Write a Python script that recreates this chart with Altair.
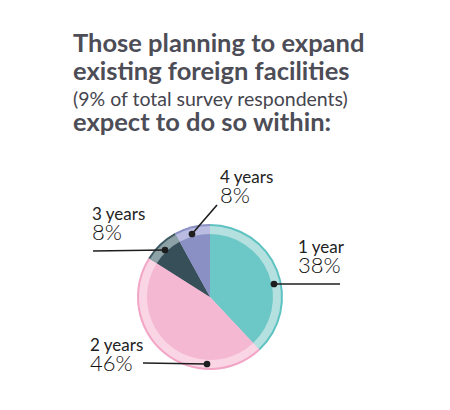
import altair as alt
import pandas as pd

# slices, clockwise from 12 o'clock
categories = ["1 year", "2 years", "3 years", "4 years"]
shares = [38, 46, 8, 8]
pct_labels = ["38%", "46%", "8%", "8%"]

title_lines = ["Those planning to expand", "existing foreign facilities",
               "(9% of total survey respondents)", "expect to do so within:"]

# colours: outer edge, light ring, inner fill
edge_colors = ["#5ec2c1", "#f2a5c5", "#405a63", "#8a8fc4"]
ring_colors = ["#b4e1e0", "#fad5e4", "#8da2a6", "#b9bbe1"]
fill_colors = ["#6cc8c6", "#f5b8d2", "#364f58", "#8a8fc4"]

# layout (page pixels)
cx, cy = 210, 297
title_y = [52, 80, 106, 131]
title_size = [25.5, 25.5, 19.5, 25.5]
label_x = [298, 90, 92, 220]
label_y = [253, 351, 220, 183]
dot_x = [274, 207, 165, 192]
dot_y = [284, 364, 250, 234]
line_x = [340, 143, 93, 217]
line_y = [284, 363, 251, 205]

xs = alt.Scale(domain=[8, 442])
ys = alt.Scale(domain=[8, 402], reverse=True)

pie = pd.DataFrame({"cat": categories, "share": shares, "k": range(4)})


def arc_layer(radius, colors):
    return alt.Chart(pie).mark_arc(outerRadius=radius).encode(
        x=alt.XDatum(cx, scale=xs, axis=None),
        y=alt.YDatum(cy, scale=ys, axis=None),
        theta=alt.Theta("share:Q", stack=True),
        order=alt.Order("k:Q"),
        color=alt.Color("cat:N", scale=alt.Scale(domain=categories, range=colors), legend=None),
    )


edge = arc_layer(73, edge_colors)
ring = arc_layer(71, ring_colors)
inner = arc_layer(63, fill_colors)

titles = pd.DataFrame({"t": title_lines, "y": title_y, "s": title_size})
title_bold = alt.Chart(titles).transform_filter("datum.s > 22").mark_text(
    align="left", baseline="alphabetic", font="Lato", fontSize=25.5, fontWeight="bold", color="#4d4d57"
).encode(
    x=alt.XDatum(73, scale=xs, axis=None),
    y=alt.Y("y:Q", scale=ys, axis=None),
    text="t:N",
)
title_small = alt.Chart(titles).transform_filter("datum.s < 22").mark_text(
    align="left", baseline="alphabetic", font="Lato", fontSize=19.5, color="#45454e"
).encode(
    x=alt.XDatum(73, scale=xs, axis=None),
    y=alt.Y("y:Q", scale=ys, axis=None),
    text="t:N",
)

ann = pd.DataFrame({
    "cat": categories, "pct": pct_labels,
    "lx": label_x, "ly": label_y,
    "dx": dot_x, "dy": dot_y, "ex": line_x, "ey": line_y,
})

leaders = alt.Chart(ann).mark_rule(color="#1e1e1e", strokeWidth=1.6).encode(
    x=alt.X("dx:Q", scale=xs, axis=None),
    y=alt.Y("dy:Q", scale=ys, axis=None),
    x2="ex:Q",
    y2="ey:Q",
)
dots = alt.Chart(ann).mark_circle(color="#1e1e1e", opacity=1, size=45).encode(
    x=alt.X("dx:Q", scale=xs, axis=None),
    y=alt.Y("dy:Q", scale=ys, axis=None),
)
cat_text = alt.Chart(ann).mark_text(
    align="left", baseline="alphabetic", font="Lato", fontSize=17, color="#222222"
).encode(
    x=alt.X("lx:Q", scale=xs, axis=None),
    y=alt.Y("ly:Q", scale=ys, axis=None),
    text="cat:N",
)
pct_text = alt.Chart(ann).mark_text(
    align="left", baseline="alphabetic", font="Lato", fontSize=22, fontWeight=300,
    color="#111111", dy=20
).encode(
    x=alt.X("lx:Q", scale=xs, axis=None),
    y=alt.Y("ly:Q", scale=ys, axis=None),
    text="pct:N",
)

chart = alt.layer(
    edge, ring, inner, leaders, dots, title_bold, title_small, cat_text, pct_text
).resolve_scale(
    color="independent"
).properties(
    width=434, height=394, padding=0, autosize="none"
).configure_view(stroke=None)

chart.save("out.html", embed_options={"renderer": "svg", "actions": False})
